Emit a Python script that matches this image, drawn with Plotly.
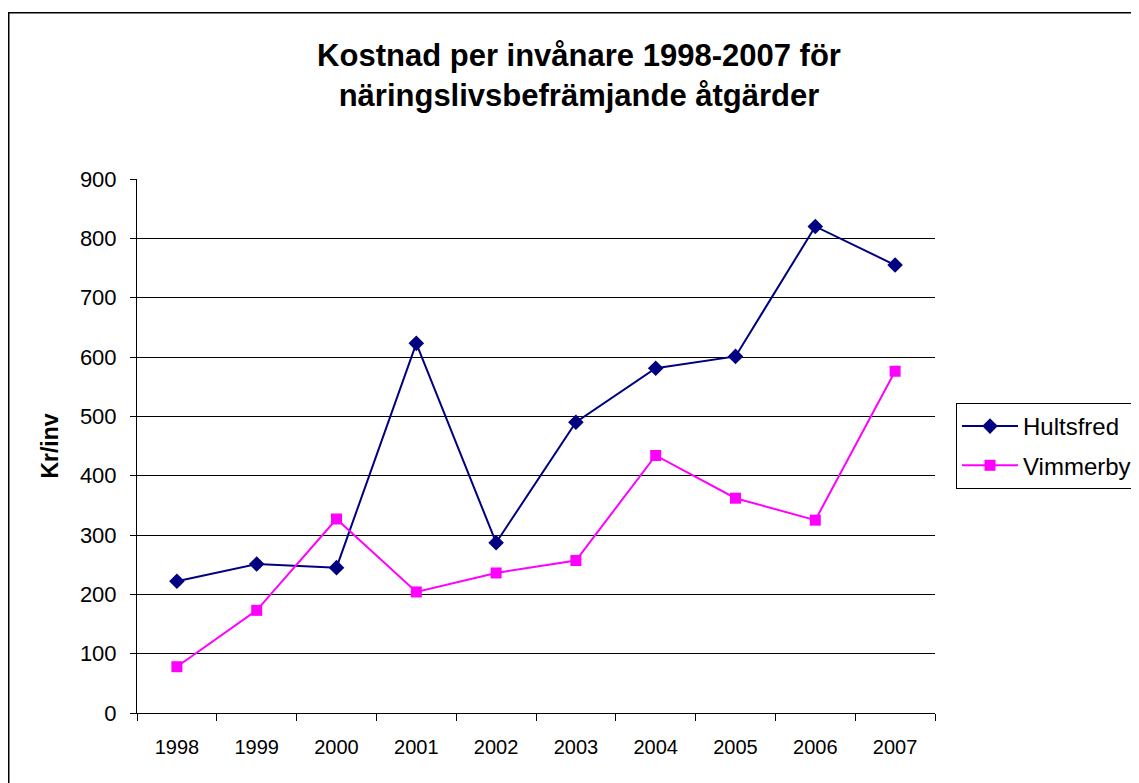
import plotly.graph_objects as go

years = ["1998", "1999", "2000", "2001", "2002", "2003", "2004", "2005", "2006", "2007"]
hultsfred = [222, 251, 245, 623, 287, 490, 581, 601, 820, 755]
vimmerby = [78, 173, 327, 204, 236, 257, 434, 362, 325, 576]
y_ticks = [0, 100, 200, 300, 400, 500, 600, 700, 800, 900]

OFF = 8  # page body margin
W, H = 1139, 783
# plot area in page pixels
PL, PR, PT, PB = 137, 935, 179, 713
L, R, T, B = PL - OFF, PR - OFF, PT - OFF, PB - OFF
FONT = "Arial, Liberation Sans, sans-serif"

def px_x(p):  # page px -> paper x
    return (p - PL) / (PR - PL)

def px_y(p):  # page px -> paper y
    return (PB - p) / (PB - PT)

fig = go.Figure()
fig.add_trace(go.Scatter(
    x=years, y=hultsfred, name="Hultsfred", mode="lines+markers",
    line=dict(color="#000080", width=2),
    marker=dict(symbol="diamond", size=12, color="#000080"),
    legendgroup="h",
))
fig.add_trace(go.Scatter(
    x=years, y=vimmerby, name="Vimmerby", mode="lines+markers",
    line=dict(color="#FF00FF", width=2),
    marker=dict(symbol="square", size=11, color="#FF00FF"),
    legendgroup="v",
))

fig.update_layout(
    width=W, height=H,
    margin=dict(l=L, r=W - R, t=T, b=H - B, autoexpand=False),
    paper_bgcolor="white", plot_bgcolor="white",
    font=dict(family=FONT, color="black", size=20),
    title=dict(
        text="Kostnad per invånare 1998-2007 för<br>näringslivsbefrämjande åtgärder",
        x=px_x(579), xref="paper", xanchor="center",
        y=1 - (66 - OFF) / H, yref="container", yanchor="middle",
        font=dict(family=FONT, size=31, color="black", weight="bold"),
    ),
    showlegend=True,
    legend=dict(
        x=px_x(956), xanchor="left", y=px_y(403), yanchor="top",
        bordercolor="black", borderwidth=1, bgcolor="white",
        font=dict(family=FONT, size=24, color="black"),
        itemwidth=56, tracegroupgap=5,
    ),
    xaxis=dict(
        type="category", tickson="boundaries", range=[-0.5, 9.5],
        showline=True, linecolor="black", linewidth=1,
        ticks="outside", ticklen=7, tickcolor="black",
        showgrid=False, zeroline=False,
        tickfont=dict(family=FONT, size=20, color="black"),
        ticklabelstandoff=16,
    ),
    yaxis=dict(
        range=[0, 900], tickvals=y_ticks,
        showline=True, linecolor="black", linewidth=1,
        ticks="outside", ticklen=6, tickcolor="black",
        showgrid=True, gridcolor="black", gridwidth=1,
        zeroline=False,
        tickfont=dict(family=FONT, size=22, color="black"),
        ticklabelstandoff=9,
        title=dict(text="<b>Kr/inv</b>", font=dict(family=FONT, size=23, color="black"), standoff=14),
    ),
    shapes=[
        dict(type="rect", xref="paper", yref="paper",
             x0=px_x(8.75), x1=px_x(1170), y0=px_y(820), y1=px_y(12.75),
             line=dict(color="black", width=1.5), fillcolor="rgba(0,0,0,0)", layer="below"),
    ],
)

fig.write_html("out.html")
